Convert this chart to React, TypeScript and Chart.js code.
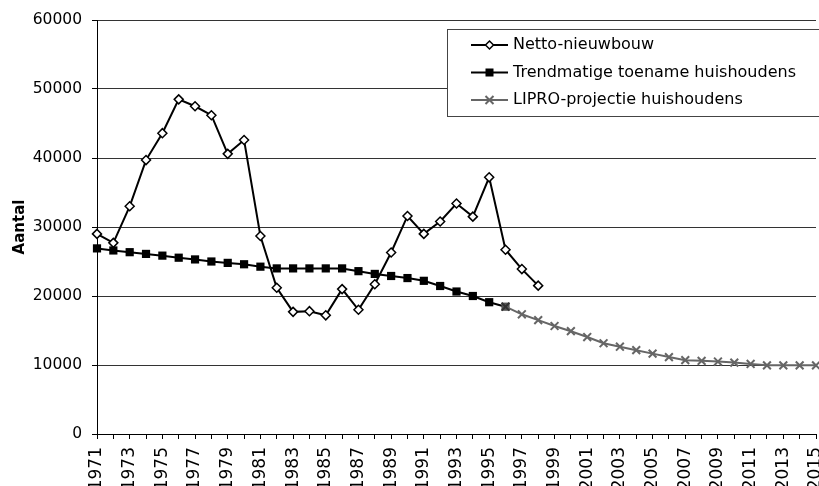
import React, { useEffect, useRef } from "react";
import { Chart, registerables } from "chart.js";

Chart.register(...registerables);

const years = [
  "1971", "1972", "1973", "1974", "1975", "1976", "1977", "1978", "1979", "1980",
  "1981", "1982", "1983", "1984", "1985", "1986", "1987", "1988", "1989", "1990",
  "1991", "1992", "1993", "1994", "1995", "1996", "1997", "1998", "1999", "2000",
  "2001", "2002", "2003", "2004", "2005", "2006", "2007", "2008", "2009", "2010",
  "2011", "2012", "2013", "2014", "2015",
];

const nettoNieuwbouw: (number | null)[] = [
  29000, 27700, 33000, 39700, 43600, 48500, 47500, 46200, 40600, 42600,
  28700, 21200, 17700, 17800, 17200, 21000, 18000, 21700, 26300, 31600,
  29000, 30800, 33400, 31500, 37200, 26700, 23900, 21500,
];

const trendHuishoudens: (number | null)[] = [
  26900, 26600, 26350, 26100, 25850, 25550, 25300, 25000, 24800, 24600,
  24250, 24000, 24000, 24000, 24000, 24000, 23600, 23200, 22900, 22600,
  22200, 21450, 20650, 20000, 19100, 18450,
];

const liproProjectie: (number | null)[] = [
  null, null, null, null, null, null, null, null, null, null,
  null, null, null, null, null, null, null, null, null, null,
  null, null, null, null, null,
  18450, 17350, 16500, 15650, 14900, 14050, 13150, 12650, 12150, 11650,
  11150, 10700, 10600, 10500, 10350, 10150, 9950, 9950, 9950, 9950,
];

const seriesNames = [
  "Netto-nieuwbouw",
  "Trendmatige toename huishoudens",
  "LIPRO-projectie huishoudens",
];

const yTitle = "Aantal";
const FONT = "'DejaVu Sans', Verdana, sans-serif";

const legendPlugin = {
  id: "boxLegend",
  afterDraw(chart: any) {
    const ctx = chart.ctx as CanvasRenderingContext2D;
    ctx.save();
    const bx = 447.5, by = 29.5, bw = 420, bh = 87;
    ctx.fillStyle = "#ffffff";
    ctx.fillRect(bx, by, bw, bh);
    ctx.strokeStyle = "#444444";
    ctx.lineWidth = 1;
    ctx.strokeRect(bx, by, bw, bh);
    const rows = [45, 72.5, 100];
    const colors = ["#000000", "#000000", "#666666"];
    rows.forEach((ry, i) => {
      ctx.strokeStyle = colors[i];
      ctx.lineWidth = 2;
      ctx.beginPath();
      ctx.moveTo(471, ry);
      ctx.lineTo(508, ry);
      ctx.stroke();
      const cx = 489.5;
      if (i === 0) {
        const r = 4;
        ctx.beginPath();
        ctx.moveTo(cx, ry - r);
        ctx.lineTo(cx + r, ry);
        ctx.lineTo(cx, ry + r);
        ctx.lineTo(cx - r, ry);
        ctx.closePath();
        ctx.fillStyle = "#fff";
        ctx.fill();
        ctx.lineWidth = 1.5;
        ctx.strokeStyle = "#000";
        ctx.stroke();
      } else if (i === 1) {
        ctx.fillStyle = "#000";
        ctx.fillRect(cx - 4, ry - 4, 8, 8);
      } else {
        const r = 4;
        ctx.strokeStyle = "#666";
        ctx.lineWidth = 2;
        ctx.beginPath();
        ctx.moveTo(cx - r, ry - r);
        ctx.lineTo(cx + r, ry + r);
        ctx.moveTo(cx + r, ry - r);
        ctx.lineTo(cx - r, ry + r);
        ctx.stroke();
      }
      ctx.fillStyle = "#000";
      ctx.font = `16px ${FONT}`;
      ctx.textBaseline = "middle";
      ctx.textAlign = "left";
      ctx.fillText(seriesNames[i], 513, ry);
    });
    ctx.restore();
  },
};

export default function App() {
  const canvasRef = useRef<HTMLCanvasElement | null>(null);

  useEffect(() => {
    if (!canvasRef.current) return;
    Chart.defaults.font.family = FONT;
    Chart.defaults.color = "#000";
    const trendPointColors = trendHuishoudens.map((_, i) =>
      i === trendHuishoudens.length - 1 ? "#555555" : "#000000"
    );
    const liproPointColors = liproProjectie.map((_, i) =>
      i === 25 ? "#333333" : "#666666"
    );
    const chart = new Chart(canvasRef.current, {
      type: "line",
      data: {
        labels: years,
        datasets: [
          {
            label: seriesNames[0],
            data: nettoNieuwbouw,
            borderColor: "#000",
            borderWidth: 2,
            pointStyle: "rectRot",
            pointRadius: 4.5,
            pointBackgroundColor: "#fff",
            pointBorderColor: "#000",
            pointBorderWidth: 1.5,
            tension: 0,
            clip: false,
            order: 0,
          },
          {
            label: seriesNames[1],
            data: trendHuishoudens,
            borderColor: "#000",
            borderWidth: 2,
            pointStyle: "rect",
            pointRadius: 5.8,
            pointBackgroundColor: trendPointColors,
            pointBorderColor: trendPointColors,
            pointBorderWidth: 0,
            tension: 0,
            clip: false,
            order: 2,
          },
          {
            label: seriesNames[2],
            data: liproProjectie,
            borderColor: "#666666",
            borderWidth: 2,
            pointStyle: "crossRot",
            pointRadius: 5.5,
            pointBorderColor: liproPointColors,
            pointBackgroundColor: liproPointColors,
            pointBorderWidth: 2,
            tension: 0,
            clip: false,
            order: 1,
          },
        ],
      },
      options: {
        responsive: false,
        animation: false,
        devicePixelRatio: 1,
        layout: { autoPadding: false, padding: { top: 20, right: 3, left: 0, bottom: 0 } },
        plugins: {
          legend: { display: false },
          tooltip: { enabled: false },
          title: { display: false },
        },
        scales: {
          x: {
            type: "category",
            offset: false,
            grid: {
              display: true,
              drawOnChartArea: false,
              drawTicks: true,
              tickLength: 5,
              color: "#000",
              tickColor: "#000",
            },
            border: { display: true, color: "#000", width: 1 },
            ticks: {
              autoSkip: false,
              maxRotation: 90,
              minRotation: 90,
              padding: 8,
              color: "#000",
              font: { size: 17 },
              callback: function (this: any, _v: any, index: number) {
                return index % 2 === 0 ? years[index] : "";
              },
            },
            afterFit(scale: any) {
              scale.height = 52;
              scale.paddingLeft = 0;
              scale.paddingRight = 0;
            },
          },
          y: {
            min: 0,
            max: 60000,
            grid: {
              color: "#333",
              tickColor: "#000",
              tickLength: 5,
              lineWidth: 1,
            },
            border: { display: true, color: "#000", width: 1 },
            ticks: {
              stepSize: 10000,
              padding: 10,
              color: "#000",
              font: { size: 15.5 },
              callback: (v: any) => String(v),
            },
            title: {
              display: true,
              text: yTitle,
              color: "#000",
              font: { size: 15, weight: "bold" },
              padding: { top: 11, bottom: 0 },
            },
            afterFit(scale: any) {
              scale.width = 97;
            },
          },
        },
      },
      plugins: [legendPlugin],
    });
    return () => chart.destroy();
  }, []);

  return (
    <div style={{ position: "fixed", left: 0, top: 0, width: 819, height: 486, background: "#fff" }}>
      <canvas ref={canvasRef} width={819} height={486} style={{ display: "block" }} />
    </div>
  );
}
